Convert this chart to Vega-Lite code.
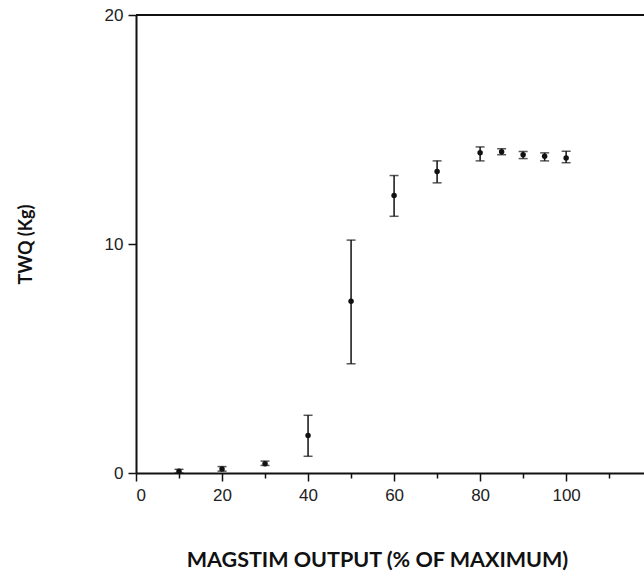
{
  "$schema": "https://vega.github.io/schema/vega-lite/v6.json",
  "autosize": "none",
  "width": 508,
  "height": 458,
  "padding": {"left": 136, "top": 15, "right": 0, "bottom": 105},
  "background": "white",
  "config": {
    "view": {"stroke": null},
    "axis": {"grid": false, "domainColor": "#111", "tickColor": "#111", "labelColor": "#222", "titleColor": "#111", "domainWidth": 2, "tickWidth": 1.5, "labelFont": "Liberation Sans", "labelFontSize": 17, "labelFontWeight": "normal", "titleFont": "Lato", "titleFontWeight": "bold", "titleFontSize": 21.5}
  },
  "data": {"values": [
    {"output": 10, "twq": 0.08, "lo": 0.0, "hi": 0.16},
    {"output": 20, "twq": 0.18, "lo": 0.08, "hi": 0.28},
    {"output": 30, "twq": 0.40, "lo": 0.33, "hi": 0.52},
    {"output": 40, "twq": 1.64, "lo": 0.73, "hi": 2.52},
    {"output": 50, "twq": 7.50, "lo": 4.77, "hi": 10.17},
    {"output": 60, "twq": 12.12, "lo": 11.21, "hi": 12.99},
    {"output": 70, "twq": 13.17, "lo": 12.67, "hi": 13.63},
    {"output": 80, "twq": 13.98, "lo": 13.63, "hi": 14.24},
    {"output": 85, "twq": 14.03, "lo": 13.90, "hi": 14.16},
    {"output": 90, "twq": 13.90, "lo": 13.73, "hi": 14.04},
    {"output": 95, "twq": 13.83, "lo": 13.63, "hi": 13.98},
    {"output": 100, "twq": 13.76, "lo": 13.55, "hi": 14.05}
  ]},
  "resolve": {"axis": {"x": "independent"}},
  "layer": [
    {
      "mark": {"type": "errorbar", "ticks": {"size": 9, "thickness": 1.5, "color": "#111"}, "thickness": 1.5, "color": "#111"},
      "encoding": {
        "x": {"field": "output", "type": "quantitative", "scale": {"domain": [0, 118.1], "nice": false, "zero": false},
          "axis": {"orient": "bottom", "values": [10, 30, 50, 70, 90, 110], "labels": false, "domain": false, "tickSize": 5, "title": null}},
        "y": {"field": "lo", "type": "quantitative", "scale": {"domain": [0, 20], "nice": false}, "title": "TWQ (Kg)",
          "axis": {"values": [0, 10, 20], "tickSize": 8, "labelPadding": 5, "titleAngle": -90, "titleX": -110, "titleY": 229, "titleAlign": "center", "titleBaseline": "middle", "titleFontSize": 18}},
        "y2": {"field": "hi"}
      }
    },
    {
      "mark": {"type": "point", "filled": true, "shape": "circle", "size": 30, "color": "#111", "opacity": 1},
      "encoding": {
        "x": {"field": "output", "type": "quantitative", "title": "MAGSTIM OUTPUT (% OF MAXIMUM)",
          "axis": {"orient": "bottom", "values": [0, 20, 40, 60, 80, 100], "tickSize": 8, "labelPadding": 6, "titleX": 241, "titleY": 87, "titleAlign": "center", "titleBaseline": "middle"}},
        "y": {"field": "twq", "type": "quantitative"}
      }
    },
    {
      "mark": {"type": "rule", "color": "#111", "strokeWidth": 2},
      "encoding": {"y": {"datum": 20}}
    }
  ]
}
